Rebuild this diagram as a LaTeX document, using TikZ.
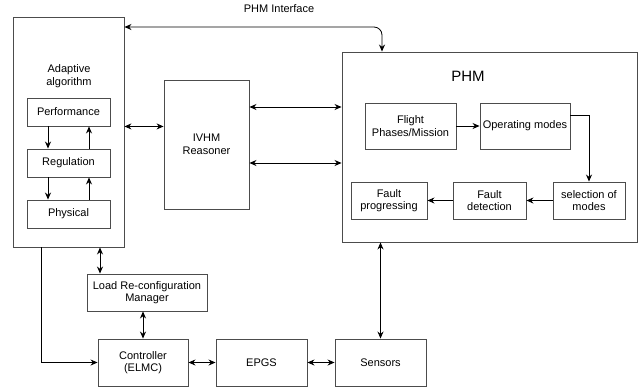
\documentclass[tikz,border=0pt]{standalone}
\usepackage{fontspec}
\setmainfont{Liberation Sans}
\usetikzlibrary{arrows.meta,positioning}

\begin{document}
\begin{tikzpicture}[x=1pt, y=-1pt, >={Stealth[length=7pt, width=6pt]}, line width=0.8pt,
    font=\fontsize{11}{12.5}\selectfont,
    block/.style={draw=black!70, line width=0.9pt, align=center, inner sep=1pt}]
    \useasboundingbox (0,0) rectangle (641,389);

    % Adaptive algorithm {adapt, perf, reg, phys}
    \node [block, minimum width=111pt, minimum height=230pt] (adapt) at (68.5,132) {};
    \node [align=center]                      (adapttxt) at (69,76)  {Adaptive\\algorithm};
    \node [block, minimum width=83pt, minimum height=28pt] (perf) at (68.5,112) {Performance};
    \node [block, minimum width=83pt, minimum height=28pt] (reg)  [below of=perf, node distance=51pt] {Regulation};
    \node [block, minimum width=83pt, minimum height=28pt] (phys) [below of=reg, node distance=51pt]  {Physical};

    % Reasoner
    \node [block, minimum width=85pt, minimum height=129pt] (ivhm) at (206.5,144.5) {IVHM\\Reasoner};

    % PHM {phm, flight, opmode, sel, fdet, fprog}
    \node [block, minimum width=295pt, minimum height=190pt] (phm) at (489.5,147) {};
    \node [font=\fontsize{15}{17}\selectfont] (phmtxt) at (468,76) {PHM};
    \node [block, minimum width=91pt, minimum height=46pt] (flight) at (410.5,126) {Flight\\Phases/Mission};
    \node [block, minimum width=90pt, minimum height=46pt] (opmode) [right of=flight, node distance=114.5pt] {Operating modes};
    \node [block, minimum width=72pt, minimum height=37pt] (sel)    at (589,200.5) {selection of\\modes};
    \node [block, minimum width=73pt, minimum height=37pt] (fdet)   [left of=sel, node distance=99.5pt]   {Fault\\detection};
    \node [block, minimum width=76pt, minimum height=37pt] (fprog)  [left of=fdet, node distance=100.5pt] {Fault\\progressing};

    % Bottom {load, ctrl, epgs, sens}
    \node [block, minimum width=120pt, minimum height=37pt] (load) at (147,292.5) {Load Re-configuration\\Manager};
    \node [block, minimum width=90pt, minimum height=47pt]  (ctrl) at (143,362.5) {Controller\\(ELMC)};
    \node [block, minimum width=91pt, minimum height=47pt]  (epgs) [right of=ctrl, node distance=118.5pt] {EPGS};
    \node [block, minimum width=91pt, minimum height=47pt]  (sens) [right of=epgs, node distance=119pt]   {Sensors};

    % Interface
    \node (ifctxt) at (279,9) {PHM Interface};
    \coordinate (ifc) at (382,27);

    % Paths
    \draw [<->, rounded corners=8pt] (ifc -| adapt.east) -- (ifc) -- (ifc |- phm.north);
    \draw [->] ([xshift=-20.5pt]perf.south) -- ([xshift=-20.5pt]reg.north);
    \draw [->] ([xshift=20.5pt]reg.north)   -- ([xshift=20.5pt]perf.south);
    \draw [->] ([xshift=-20.5pt]reg.south)  -- ([xshift=-20.5pt]phys.north);
    \draw [->] ([xshift=20.5pt]phys.north)  -- ([xshift=20.5pt]reg.south);
    \draw [<->] (adapt.east |- perf.south) -- (ivhm.west |- perf.south);
    \draw [<->] ([yshift=37.5pt]ivhm.east)  -- ([yshift=37.5pt]ivhm.east -| phm.west);
    \draw [<->] ([yshift=-18.5pt]ivhm.east) -- ([yshift=-18.5pt]ivhm.east -| phm.west);
    \draw [->] (flight) -- (opmode);
    \draw [->] ([yshift=11pt]opmode.east) -| (sel.north);
    \draw [->] (sel) -- (fdet);
    \draw [->] (fdet) -- (fprog);
    \draw [<->] ([xshift=-47pt]load.north) -- ([xshift=-47pt]load.north |- adapt.south);
    \draw [<->] (ctrl.north) -- (ctrl.north |- load.south);
    \draw [->] ([xshift=-27.5pt]adapt.south) |- (ctrl.west);
    \draw [<->] (ctrl) -- (epgs);
    \draw [<->] (epgs) -- (sens);
    \draw [<->] (sens.north) -- (sens.north |- phm.south);
\end{tikzpicture}
\end{document}
